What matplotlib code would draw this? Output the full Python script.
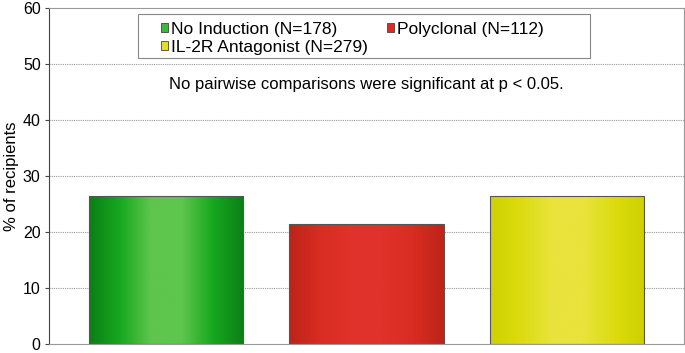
import numpy as np
import matplotlib.pyplot as plt
from matplotlib.colors import LinearSegmentedColormap
from matplotlib.patches import Patch, Rectangle

plt.rcParams['font.family'] = ['Liberation Sans', 'DejaVu Sans']

groups = ['No Induction (N=178)', 'Polyclonal (N=112)', 'IL-2R Antagonist (N=279)']
pct = [26.4, 21.4, 26.5]
# edge / inner / centre shades for the cylinder look
shades = [
    ['#0c7f16', '#17a81f', '#5ec64c'],
    ['#bd2418', '#d92c22', '#e0322a'],
    ['#cfd000', '#dcdc10', '#e9e33c'],
]
legend_col = ['#3cb83c', '#dd2a22', '#e2e020']

fig = plt.figure(figsize=(6.85, 3.53), dpi=100)
ax = fig.add_axes([0.0715, 0.0255, 0.927, 0.952])

x = np.arange(len(pct))
bars = ax.bar(x, pct, width=0.77, color='none', edgecolor='#555555', linewidth=0.8, zorder=3)

grad = np.linspace(0, 1, 256).reshape(1, -1)
for b, sh in zip(bars, shades):
    cmap = LinearSegmentedColormap.from_list('g', [sh[0], sh[1], sh[2], sh[2], sh[1], sh[0]])
    x0, w, h = b.get_x(), b.get_width(), b.get_height()
    im = ax.imshow(grad, cmap=cmap, aspect='auto', extent=[x0, x0 + w, 0, h], zorder=2)
    im.set_clip_path(b)

ax.set_xlim(-0.585, 2.585)
ax.set_ylim(0, 60)
ax.set_yticks(range(0, 61, 10))
ax.set_xticks([])
ax.tick_params(axis='y', labelsize=11.5, length=3, color='#444444', pad=3)
ax.set_ylabel('% of recipients', fontsize=12)
ax.yaxis.set_label_coords(-0.047, 0.5)

for yv in range(10, 60, 10):
    ax.axhline(yv, color='#999999', linestyle=(0, (1, 1)), linewidth=0.8, zorder=1)

for s in ['top', 'right', 'bottom']:
    ax.spines[s].set_color('#999999')
ax.spines['left'].set_color('#444444')

ax.text(1, 46.3, 'No pairwise comparisons were significant at p < 0.05.',
        ha='center', va='center', fontsize=12)

# legend box drawn separately so the padding can match
ax.add_patch(Rectangle((0.14, 0.851), 0.712, 0.131, transform=ax.transAxes,
                       facecolor='white', edgecolor='#888888', linewidth=0.8, zorder=4))

handles = [Patch(facecolor=c, edgecolor='#444444', linewidth=0.6) for c in legend_col]
order = [0, 2, 1]
leg = ax.legend([handles[i] for i in order], [groups[i] for i in order], ncol=2,
                loc='upper left', bbox_to_anchor=(0.1764, 0.958),
                fontsize=12.5, frameon=False,
                handlelength=0.4, handleheight=0.4, handletextpad=0.15,
                columnspacing=1.15, borderpad=0, labelspacing=0.15, borderaxespad=0)
leg.set_zorder(5)

plt.savefig('out.png', dpi=100)
